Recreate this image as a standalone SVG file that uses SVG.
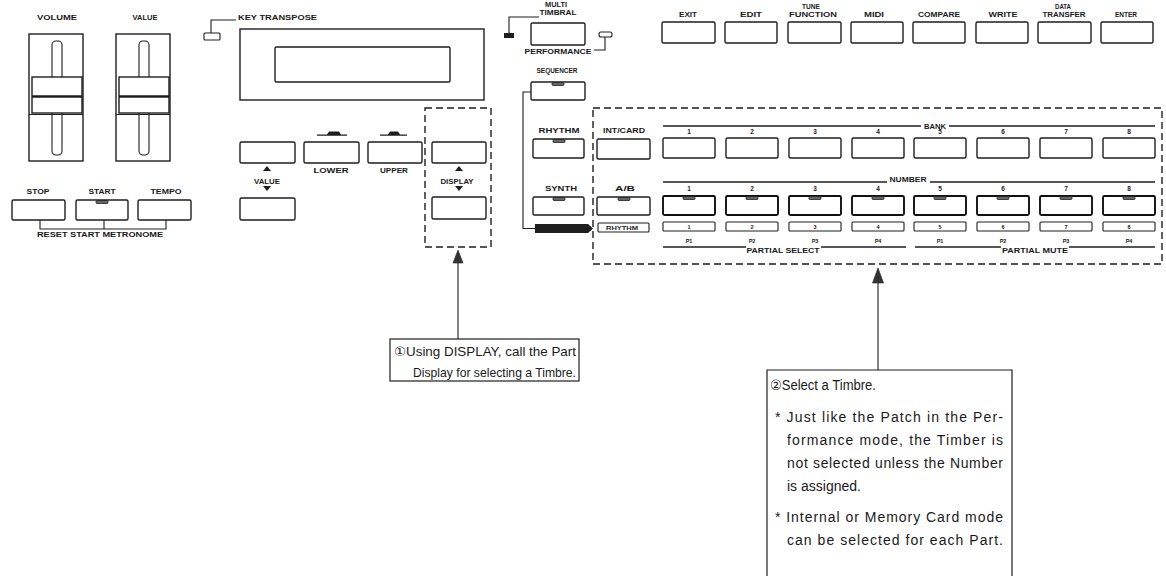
<svg xmlns="http://www.w3.org/2000/svg" width="1166" height="576" viewBox="0 0 1166 576">
<style>
.bg{fill:#fff}
.btn{fill:#fff;stroke:#1e1e1e;stroke-width:1.4}
.btnb{fill:#fff;stroke:#111;stroke-width:1.9}
.sm{fill:#fff;stroke:#1e1e1e;stroke-width:1.1}
.tab{fill:#666;stroke:#222;stroke-width:0.8}
.ln{fill:none;stroke:#1e1e1e;stroke-width:1.1}
.ln2{fill:none;stroke:#1e1e1e;stroke-width:1.6}
.dash{fill:none;stroke:#1e1e1e;stroke-width:1.4;stroke-dasharray:7 4}
.lbl{font-family:"Liberation Sans",Arial,sans-serif;font-weight:bold;font-size:6.5px;fill:#1a1a1a;text-anchor:middle}
.lbls{font-family:"Liberation Sans",Arial,sans-serif;font-weight:bold;font-size:5.5px;fill:#1a1a1a;text-anchor:middle}
.co{font-family:"Liberation Sans","DejaVu Sans",Arial,sans-serif;font-size:13px;fill:#1a1a1a}
.co2{font-family:"Liberation Sans","DejaVu Sans",Arial,sans-serif;font-size:14px;fill:#1a1a1a}
.box{fill:#fff;stroke:#1e1e1e;stroke-width:1.2}
.ah{fill:#333;stroke:#222;stroke-width:0.6}
.fill{fill:#1e1e1e}
</style>
<rect class="bg" x="0" y="0" width="1166" height="576"/>

<!-- Sliders -->
<g id="volume-slider">
<text class="lbl" x="57" y="20" textLength="40" lengthAdjust="spacingAndGlyphs">VOLUME</text>
<rect class="btn" x="29" y="34" width="54" height="127"/>
<rect class="sm" x="52" y="41" width="10" height="114" rx="4"/>
<rect class="btn" x="32" y="77" width="50" height="36"/>
<line class="ln2" x1="32" y1="96.5" x2="82" y2="96.5" style="stroke-width:2.4"/>
<line class="ln" x1="29" y1="114.5" x2="83" y2="114.5"/>
</g>
<g id="value-slider">
<text class="lbl" x="145" y="20" textLength="25" lengthAdjust="spacingAndGlyphs">VALUE</text>
<rect class="btn" x="116" y="34" width="54" height="127"/>
<rect class="sm" x="139" y="41" width="10" height="114" rx="4"/>
<rect class="btn" x="119" y="77" width="50" height="36"/>
<line class="ln2" x1="119" y1="96.5" x2="169" y2="96.5" style="stroke-width:2.4"/>
<line class="ln" x1="116" y1="114.5" x2="170" y2="114.5"/>
</g>

<!-- Stop/Start/Tempo -->
<g id="stop-btn">
<text class="lbl" x="38" y="194" textLength="23" lengthAdjust="spacingAndGlyphs">STOP</text>
<rect class="btn" x="12" y="200" width="53" height="20" rx="1.5"/>
</g>
<g id="start-btn">
<text class="lbl" x="102" y="194" textLength="27" lengthAdjust="spacingAndGlyphs">START</text>
<rect class="btn" x="76" y="200" width="52" height="20" rx="1.5"/>
<rect class="tab" x="96" y="200.5" width="12" height="3" rx="1"/>
</g>
<g id="tempo-btn">
<text class="lbl" x="166" y="194" textLength="31" lengthAdjust="spacingAndGlyphs">TEMPO</text>
<rect class="btn" x="138" y="200" width="53" height="20" rx="1.5"/>
</g>
<g id="reset-start-metronome">
<text class="lbl" x="100" y="237" textLength="126" lengthAdjust="spacingAndGlyphs">RESET  START  METRONOME</text>
</g>

<!-- Key transpose & display -->
<g id="key-transpose">
<rect class="sm" x="204" y="33" width="16" height="7" rx="1"/>
<text class="lbl" x="238" y="20" textLength="79" lengthAdjust="spacingAndGlyphs" style="text-anchor:start">KEY TRANSPOSE</text>
</g>
<g id="display-panel">
<rect class="btn" x="240" y="29" width="244" height="71"/>
<rect class="btn" x="275" y="47" width="175" height="35" rx="1.5"/>
</g>
<g id="value-up-btn">
<rect class="btn" x="240" y="142" width="55" height="21" rx="1.5"/>
<polygon class="fill" points="267,166 263,171 271,171"/>
<text class="lbl" x="267" y="184" textLength="26" lengthAdjust="spacingAndGlyphs">VALUE</text>
<polygon class="fill" points="267,191 263,186 271,186"/>
</g>
<g id="value-down-btn">
<rect class="btn" x="240" y="198" width="55" height="22" rx="1.5"/>
</g>
<g id="lower-btn">
<path class="fill" d="M317,134.5 L327,134.5 L329,131.5 L339,131.5 L341,134.5 L347,134.5 L347,135.8 L317,135.8 Z"/>
<rect class="btn" x="304" y="142" width="55" height="21" rx="1.5"/>
<text class="lbl" x="331" y="173" textLength="35" lengthAdjust="spacingAndGlyphs">LOWER</text>
</g>
<g id="upper-btn">
<path class="fill" d="M380,134.5 L388,134.5 L390,131.5 L398,131.5 L400,134.5 L407,134.5 L407,135.8 L380,135.8 Z"/>
<rect class="btn" x="368" y="142" width="54" height="21" rx="1.5"/>
<text class="lbl" x="394" y="173" textLength="28" lengthAdjust="spacingAndGlyphs">UPPER</text>
</g>
<g id="display-up-btn">
<rect class="btn" x="432" y="142" width="54" height="21" rx="1.5"/>
<polygon class="fill" points="459,166 455,171 463,171"/>
<text class="lbl" x="457" y="184" textLength="33" lengthAdjust="spacingAndGlyphs">DISPLAY</text>
<polygon class="fill" points="459,191 455,186 463,186"/>
</g>
<g id="display-down-btn">
<rect class="btn" x="432" y="197" width="54" height="22" rx="1.5"/>
</g>
<g id="display-group">
<rect class="dash" x="425" y="108" width="66" height="139"/>
</g>

<!-- Performance / sequencer column -->
<g id="performance-btn">
<text class="lbl" x="556" y="7" textLength="22" lengthAdjust="spacingAndGlyphs">MULTI</text>
<text class="lbl" x="558" y="15" textLength="37" lengthAdjust="spacingAndGlyphs">TIMBRAL</text>
<rect class="fill" x="504" y="33" width="10" height="5"/>
<rect class="btn" x="531" y="23" width="54" height="22" rx="1.5"/>
<rect class="sm" x="599" y="32" width="13" height="5" rx="2"/>
<text class="lbl" x="558" y="54" textLength="67" lengthAdjust="spacingAndGlyphs">PERFORMANCE</text>
</g>
<g id="sequencer-btn">
<text class="lbl" x="557" y="73" textLength="41" lengthAdjust="spacingAndGlyphs">SEQUENCER</text>
<rect class="btn" x="531" y="82" width="54" height="18" rx="1.5"/>
<rect class="tab" x="552" y="82.5" width="12" height="3" rx="1"/>
</g>
<g id="rhythm-btn">
<text class="lbl" x="559" y="133" textLength="41" lengthAdjust="spacingAndGlyphs">RHYTHM</text>
<rect class="btn" x="533" y="139" width="51" height="19" rx="1.5"/>
<rect class="tab" x="553" y="139.5" width="12" height="3" rx="1"/>
</g>
<g id="synth-btn">
<text class="lbl" x="561" y="191" textLength="32" lengthAdjust="spacingAndGlyphs">SYNTH</text>
<rect class="btn" x="533" y="197" width="51" height="18" rx="1.5"/>
<rect class="tab" x="553" y="197.5" width="12" height="3" rx="1"/>
</g>
<g id="sequencer-indicator">
<polygon class="fill" points="535,224 588,224 593,228.5 588,233 535,233"/>
</g>

<!-- Part select area -->
<g id="part-area">
<rect class="dash" x="593" y="108" width="569" height="156"/>
</g>
<g id="int-card-btn">
<text class="lbl" x="624" y="133" textLength="42" lengthAdjust="spacingAndGlyphs">INT/CARD</text>
<rect class="btn" x="597" y="139" width="53" height="20" rx="1.5"/>
</g>
<g id="ab-btn">
<text class="lbl" x="625" y="191" textLength="20" lengthAdjust="spacingAndGlyphs">A/B</text>
<rect class="btn" x="597" y="197" width="53" height="18" rx="1.5"/>
<rect class="tab" x="618" y="197.5" width="12" height="3" rx="1"/>
</g>
<g id="rhythm-small-btn">
<rect class="sm" x="598" y="223" width="51" height="9" rx="1"/>
<text class="lbls" x="622" y="230" textLength="32" lengthAdjust="spacingAndGlyphs">RHYTHM</text>
</g>

<g id="bank-label">
<line class="ln2" x1="663" y1="126" x2="921" y2="126"/>
<line class="ln2" x1="949" y1="126" x2="1155" y2="126"/>
<text class="lbl" x="935" y="128.5" textLength="22" lengthAdjust="spacingAndGlyphs">BANK</text>
</g>
<g id="bank-buttons">
<text class="lbl" x="689" y="134">1</text><rect class="btn" x="663" y="138" width="52" height="20" rx="1.5"/>
<text class="lbl" x="752" y="134">2</text><rect class="btn" x="726" y="138" width="52" height="20" rx="1.5"/>
<text class="lbl" x="815" y="134">3</text><rect class="btn" x="789" y="138" width="52" height="20" rx="1.5"/>
<text class="lbl" x="878" y="134">4</text><rect class="btn" x="852" y="138" width="52" height="20" rx="1.5"/>
<text class="lbl" x="940" y="134">5</text><rect class="btn" x="914" y="138" width="52" height="20" rx="1.5"/>
<text class="lbl" x="1003" y="134">6</text><rect class="btn" x="977" y="138" width="52" height="20" rx="1.5"/>
<text class="lbl" x="1066" y="134">7</text><rect class="btn" x="1040" y="138" width="52" height="20" rx="1.5"/>
<text class="lbl" x="1129" y="134">8</text><rect class="btn" x="1103" y="138" width="52" height="20" rx="1.5"/>
</g>

<g id="number-label">
<line class="ln2" x1="663" y1="182" x2="887" y2="182"/>
<line class="ln2" x1="930" y1="182" x2="1155" y2="182"/>
<text class="lbl" x="908" y="181.5" textLength="37" lengthAdjust="spacingAndGlyphs">NUMBER</text>
</g>
<g id="number-buttons">
<text class="lbl" x="689" y="191">1</text><rect class="btnb" x="663" y="196" width="52" height="19" rx="1.5"/><rect class="tab" x="683" y="196.5" width="12" height="3" rx="1"/>
<text class="lbl" x="752" y="191">2</text><rect class="btnb" x="726" y="196" width="52" height="19" rx="1.5"/><rect class="tab" x="746" y="196.5" width="12" height="3" rx="1"/>
<text class="lbl" x="815" y="191">3</text><rect class="btnb" x="789" y="196" width="52" height="19" rx="1.5"/><rect class="tab" x="809" y="196.5" width="12" height="3" rx="1"/>
<text class="lbl" x="878" y="191">4</text><rect class="btnb" x="852" y="196" width="52" height="19" rx="1.5"/><rect class="tab" x="872" y="196.5" width="12" height="3" rx="1"/>
<text class="lbl" x="940" y="191">5</text><rect class="btnb" x="914" y="196" width="52" height="19" rx="1.5"/><rect class="tab" x="934" y="196.5" width="12" height="3" rx="1"/>
<text class="lbl" x="1003" y="191">6</text><rect class="btnb" x="977" y="196" width="52" height="19" rx="1.5"/><rect class="tab" x="997" y="196.5" width="12" height="3" rx="1"/>
<text class="lbl" x="1066" y="191">7</text><rect class="btnb" x="1040" y="196" width="52" height="19" rx="1.5"/><rect class="tab" x="1060" y="196.5" width="12" height="3" rx="1"/>
<text class="lbl" x="1129" y="191">8</text><rect class="btnb" x="1103" y="196" width="52" height="19" rx="1.5"/><rect class="tab" x="1123" y="196.5" width="12" height="3" rx="1"/>
</g>
<g id="partial-buttons">
<rect class="sm" x="663" y="222" width="52" height="9" rx="1"/><text class="lbls" x="689" y="229">1</text>
<rect class="sm" x="726" y="222" width="52" height="9" rx="1"/><text class="lbls" x="752" y="229">2</text>
<rect class="sm" x="789" y="222" width="52" height="9" rx="1"/><text class="lbls" x="815" y="229">3</text>
<rect class="sm" x="852" y="222" width="52" height="9" rx="1"/><text class="lbls" x="878" y="229">4</text>
<rect class="sm" x="914" y="222" width="52" height="9" rx="1"/><text class="lbls" x="940" y="229">5</text>
<rect class="sm" x="977" y="222" width="52" height="9" rx="1"/><text class="lbls" x="1003" y="229">6</text>
<rect class="sm" x="1040" y="222" width="52" height="9" rx="1"/><text class="lbls" x="1066" y="229">7</text>
<rect class="sm" x="1103" y="222" width="52" height="9" rx="1"/><text class="lbls" x="1129" y="229">8</text>
</g>
<g id="partial-select">
<text class="lbls" x="689" y="243">P1</text>
<text class="lbls" x="752" y="243">P2</text>
<text class="lbls" x="815" y="243">P3</text>
<text class="lbls" x="878" y="243">P4</text>
<line class="ln2" x1="663" y1="247" x2="746" y2="247"/>
<line class="ln2" x1="821" y1="247" x2="906" y2="247"/>
<text class="lbl" x="783" y="253" textLength="73" lengthAdjust="spacingAndGlyphs">PARTIAL SELECT</text>
</g>
<g id="partial-mute">
<text class="lbls" x="940" y="243">P1</text>
<text class="lbls" x="1003" y="243">P2</text>
<text class="lbls" x="1066" y="243">P3</text>
<text class="lbls" x="1129" y="243">P4</text>
<line class="ln2" x1="915" y1="247" x2="1001" y2="247"/>
<line class="ln2" x1="1069" y1="247" x2="1155" y2="247"/>
<text class="lbl" x="1035" y="253" textLength="66" lengthAdjust="spacingAndGlyphs">PARTIAL MUTE</text>
</g>

<!-- Top right buttons -->
<g id="exit-btn"><text class="lbl" x="688" y="17" textLength="18" lengthAdjust="spacingAndGlyphs">EXIT</text><rect class="btn" x="662" y="22" width="53" height="21" rx="1.5"/></g>
<g id="edit-btn"><text class="lbl" x="751" y="17" textLength="22" lengthAdjust="spacingAndGlyphs">EDIT</text><rect class="btn" x="725" y="22" width="52" height="21" rx="1.5"/></g>
<g id="tune-function-btn"><text class="lbl" x="811" y="9" textLength="18" lengthAdjust="spacingAndGlyphs">TUNE</text><text class="lbl" x="813" y="17" textLength="48" lengthAdjust="spacingAndGlyphs">FUNCTION</text><rect class="btn" x="788" y="22" width="53" height="21" rx="1.5"/></g>
<g id="midi-btn"><text class="lbl" x="874" y="17" textLength="20" lengthAdjust="spacingAndGlyphs">MIDI</text><rect class="btn" x="851" y="22" width="52" height="21" rx="1.5"/></g>
<g id="compare-btn"><text class="lbl" x="939" y="17" textLength="42" lengthAdjust="spacingAndGlyphs">COMPARE</text><rect class="btn" x="913" y="22" width="52" height="21" rx="1.5"/></g>
<g id="write-btn"><text class="lbl" x="1003" y="17" textLength="29" lengthAdjust="spacingAndGlyphs">WRITE</text><rect class="btn" x="976" y="22" width="52" height="21" rx="1.5"/></g>
<g id="data-transfer-btn"><text class="lbl" x="1063" y="9" textLength="16" lengthAdjust="spacingAndGlyphs">DATA</text><text class="lbl" x="1064" y="17" textLength="43" lengthAdjust="spacingAndGlyphs">TRANSFER</text><rect class="btn" x="1038" y="22" width="53" height="21" rx="1.5"/></g>
<g id="enter-btn"><text class="lbl" x="1126" y="17" textLength="22" lengthAdjust="spacingAndGlyphs">ENTER</text><rect class="btn" x="1101" y="22" width="52" height="21" rx="1.5"/></g>

<!-- Callouts -->
<g id="callout-1">
<rect class="box" x="390" y="339" width="189" height="42"/>
<text class="co" x="394" y="356" textLength="182" lengthAdjust="spacingAndGlyphs">①Using DISPLAY, call the Part</text>
<text class="co" x="413" y="377" textLength="163" lengthAdjust="spacingAndGlyphs">Display for selecting a Timbre.</text>
</g>
<g id="callout-2">
<path class="box" d="M767,576 L767,370 L1012,370 L1012,576"/>
<text class="co2" x="770" y="390" textLength="106" lengthAdjust="spacingAndGlyphs">②Select a Timbre.</text>
<text class="co2" x="775" y="422" textLength="228" lengthAdjust="spacing">* Just like the Patch in the Per-</text>
<text class="co2" x="787" y="445" textLength="216" lengthAdjust="spacing">formance mode, the Timber is</text>
<text class="co2" x="787" y="468" textLength="216" lengthAdjust="spacing">not selected unless the Number</text>
<text class="co2" x="787" y="491">is assigned.</text>
<text class="co2" x="775" y="522" textLength="228" lengthAdjust="spacing">* Internal or Memory Card mode</text>
<text class="co2" x="787" y="545" textLength="216" lengthAdjust="spacing">can be selected for each Part.</text>
</g>

<!-- Connectors -->
<g id="connectors">
<polyline class="ln" points="211,33 211,20 236,20"/>
<polyline class="ln" points="509,33 509,17 539,17"/>
<polyline class="ln" points="605,37 605,50 594,50"/>
<polyline class="ln" points="531,92 523,92 523,228.5 535,228.5"/>
<polyline class="ln" points="40,220 40,229 166,229 166,220"/>
<line class="ln" x1="104" y1="220" x2="104" y2="229"/>
<line class="ln" x1="458" y1="262" x2="458" y2="339"/>
<polygon class="ah" points="458,250 453,263 463,263"/>
<line class="ln" x1="878" y1="282" x2="878" y2="370"/>
<polygon class="ah" points="878,268 872.5,283 883.5,283"/>
</g>
</svg>
